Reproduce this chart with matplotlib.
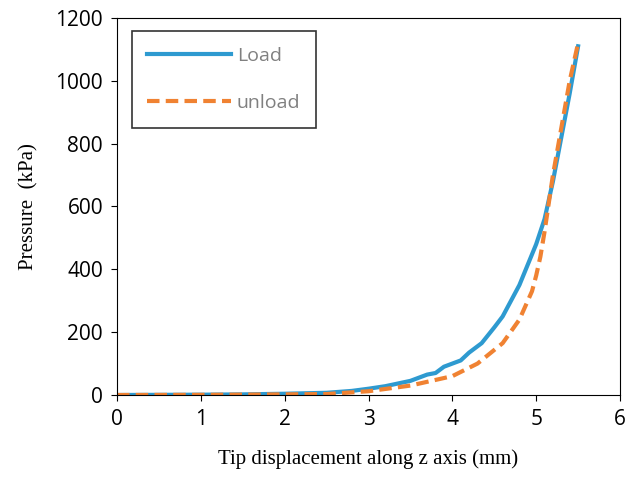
import matplotlib
matplotlib.use("Agg")
import matplotlib.pyplot as plt

load_x = [0, 0.5, 1, 1.5, 2, 2.5, 2.8, 3, 3.2, 3.5, 3.7, 3.8, 3.9, 4.0, 4.1, 4.2, 4.35, 4.5, 4.6, 4.8, 5.0, 5.1, 5.2, 5.3, 5.4, 5.5]
load_y = [0, 0.5, 1, 2, 4, 7, 13, 20, 28, 45, 65, 70, 90, 100, 110, 135, 165, 215, 250, 350, 480, 560, 680, 820, 960, 1110]
unload_x = [0, 1, 2, 2.5, 3, 3.5, 4, 4.3, 4.6, 4.8, 4.95, 5.0, 5.05, 5.1, 5.2, 5.3, 5.4, 5.5]
unload_y = [0, 0.5, 2, 3, 12, 30, 60, 100, 165, 240, 330, 380, 440, 520, 700, 850, 1000, 1120]

fig = plt.figure(figsize=(6.34, 4.88), dpi=100)
ax = fig.add_axes([117/634, 1-395/488, 503/634, 377/488])
ax.plot(load_x, load_y, color="#2E9AD0", lw=3, label="Load")
ax.plot(unload_x, unload_y, color="#F08232", lw=3, ls=(0, (3, 1.5)), label="unload")
ax.set_xlim(0, 6)
ax.set_ylim(0, 1200)
ax.set_xticks(range(7))
ax.set_yticks(range(0, 1201, 200))
for lab in ax.get_xticklabels() + ax.get_yticklabels():
    lab.set_fontfamily("Open Sans")
    lab.set_fontsize(15)
ax.tick_params(direction="out", length=4, pad=6)
ax.set_xlabel("Tip displacement along z axis (mm)", family="Liberation Serif", fontsize=15, labelpad=14)
ax.set_ylabel("Pressure  (kPa)", family="Liberation Serif", fontsize=15, labelpad=12)
leg = ax.legend(loc="upper left", bbox_to_anchor=(0.01, 0.99), fancybox=False,
                edgecolor="black", handlelength=4.3, labelspacing=1.5,
                borderpad=0.8, handletextpad=0.3, prop={"family": "Open Sans", "size": 14})
leg.get_frame().set_linewidth(1.2)
for t in leg.get_texts():
    t.set_color("#808080")
fig.savefig("out.png", dpi=100)
